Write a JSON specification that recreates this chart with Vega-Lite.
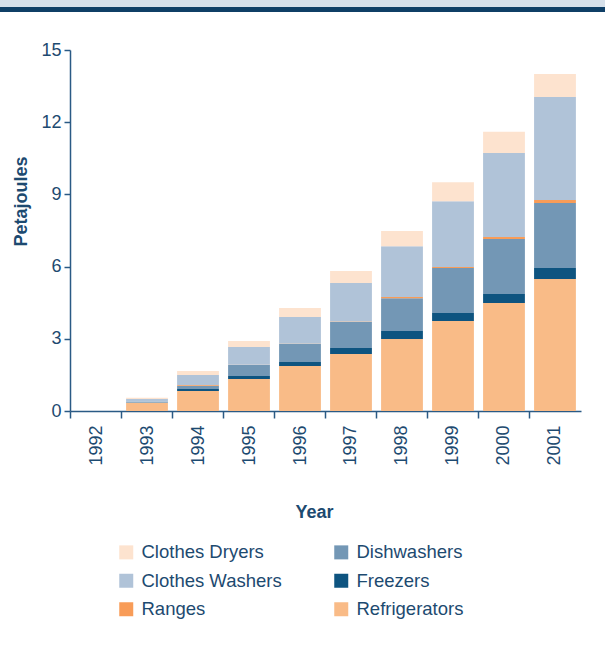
{
  "$schema": "https://vega.github.io/schema/vega-lite/v6.json",
  "padding": 0,
  "background": "white",
  "spacing": 29,
  "align": "none",
  "config": {
    "font": "Liberation Sans",
    "view": {"stroke": null}
  },
  "vconcat": [
    {
      "spacing": 0,
      "align": "none",
      "vconcat": [
        {
          "width": 605, "height": 7,
          "data": {"values": [{}]},
          "mark": {"type": "rect", "color": "#d6e0ea"},
          "encoding": {}
        },
        {
          "width": 605, "height": 5,
          "data": {"values": [{}]},
          "mark": {"type": "rect", "color": "#0f3f66"},
          "encoding": {}
        }
      ]
    },
    {
      "spacing": 0,
      "hconcat": [
        {
          "width": 12, "height": 1,
          "data": {"values": [{}]},
          "mark": {"type": "rect", "opacity": 0},
          "encoding": {}
        },
        {
          "width": 511,
          "height": 361,
          "data": {
            "values": [
              {"year": "1992", "appliance": "Refrigerators", "pj": 0},
              {"year": "1992", "appliance": "Freezers", "pj": 0},
              {"year": "1992", "appliance": "Dishwashers", "pj": 0},
              {"year": "1992", "appliance": "Ranges", "pj": 0},
              {"year": "1992", "appliance": "Clothes Washers", "pj": 0},
              {"year": "1992", "appliance": "Clothes Dryers", "pj": 0},
              {"year": "1993", "appliance": "Refrigerators", "pj": 0.34},
              {"year": "1993", "appliance": "Freezers", "pj": 0.01},
              {"year": "1993", "appliance": "Dishwashers", "pj": 0.04},
              {"year": "1993", "appliance": "Ranges", "pj": 0},
              {"year": "1993", "appliance": "Clothes Washers", "pj": 0.11},
              {"year": "1993", "appliance": "Clothes Dryers", "pj": 0.05},
              {"year": "1994", "appliance": "Refrigerators", "pj": 0.83},
              {"year": "1994", "appliance": "Freezers", "pj": 0.08},
              {"year": "1994", "appliance": "Dishwashers", "pj": 0.14},
              {"year": "1994", "appliance": "Ranges", "pj": 0.03},
              {"year": "1994", "appliance": "Clothes Washers", "pj": 0.42},
              {"year": "1994", "appliance": "Clothes Dryers", "pj": 0.16},
              {"year": "1995", "appliance": "Refrigerators", "pj": 1.33},
              {"year": "1995", "appliance": "Freezers", "pj": 0.12},
              {"year": "1995", "appliance": "Dishwashers", "pj": 0.46},
              {"year": "1995", "appliance": "Ranges", "pj": 0.01},
              {"year": "1995", "appliance": "Clothes Washers", "pj": 0.74},
              {"year": "1995", "appliance": "Clothes Dryers", "pj": 0.25},
              {"year": "1996", "appliance": "Refrigerators", "pj": 1.87},
              {"year": "1996", "appliance": "Freezers", "pj": 0.17},
              {"year": "1996", "appliance": "Dishwashers", "pj": 0.75},
              {"year": "1996", "appliance": "Ranges", "pj": 0.01},
              {"year": "1996", "appliance": "Clothes Washers", "pj": 1.11},
              {"year": "1996", "appliance": "Clothes Dryers", "pj": 0.37},
              {"year": "1997", "appliance": "Refrigerators", "pj": 2.37},
              {"year": "1997", "appliance": "Freezers", "pj": 0.25},
              {"year": "1997", "appliance": "Dishwashers", "pj": 1.08},
              {"year": "1997", "appliance": "Ranges", "pj": 0.02},
              {"year": "1997", "appliance": "Clothes Washers", "pj": 1.6},
              {"year": "1997", "appliance": "Clothes Dryers", "pj": 0.5},
              {"year": "1998", "appliance": "Refrigerators", "pj": 2.99},
              {"year": "1998", "appliance": "Freezers", "pj": 0.33},
              {"year": "1998", "appliance": "Dishwashers", "pj": 1.37},
              {"year": "1998", "appliance": "Ranges", "pj": 0.05},
              {"year": "1998", "appliance": "Clothes Washers", "pj": 2.11},
              {"year": "1998", "appliance": "Clothes Dryers", "pj": 0.63},
              {"year": "1999", "appliance": "Refrigerators", "pj": 3.74},
              {"year": "1999", "appliance": "Freezers", "pj": 0.33},
              {"year": "1999", "appliance": "Dishwashers", "pj": 1.87},
              {"year": "1999", "appliance": "Ranges", "pj": 0.04},
              {"year": "1999", "appliance": "Clothes Washers", "pj": 2.74},
              {"year": "1999", "appliance": "Clothes Dryers", "pj": 0.79},
              {"year": "2000", "appliance": "Refrigerators", "pj": 4.49},
              {"year": "2000", "appliance": "Freezers", "pj": 0.37},
              {"year": "2000", "appliance": "Dishwashers", "pj": 2.29},
              {"year": "2000", "appliance": "Ranges", "pj": 0.08},
              {"year": "2000", "appliance": "Clothes Washers", "pj": 3.49},
              {"year": "2000", "appliance": "Clothes Dryers", "pj": 0.88},
              {"year": "2001", "appliance": "Refrigerators", "pj": 5.48},
              {"year": "2001", "appliance": "Freezers", "pj": 0.46},
              {"year": "2001", "appliance": "Dishwashers", "pj": 2.7},
              {"year": "2001", "appliance": "Ranges", "pj": 0.13},
              {"year": "2001", "appliance": "Clothes Washers", "pj": 4.28},
              {"year": "2001", "appliance": "Clothes Dryers", "pj": 0.95}
            ]
          },
          "transform": [
            {"calculate": "indexof(['Refrigerators','Freezers','Dishwashers','Ranges','Clothes Washers','Clothes Dryers'], datum.appliance)", "as": "stackRank"}
          ],
          "mark": {"type": "bar"},
          "encoding": {
            "x": {
              "field": "year", "type": "ordinal",
              "scale": {"paddingInner": 0.18, "paddingOuter": 0.1},
              "axis": {
                "title": "Year",
                "labelAngle": -90,
                "labelFontSize": 18,
                "labelColor": "#1d4a70",
                "labelPadding": 7,
                "labelOffset": 0.5,
                "bandPosition": -0.11,
                "tickSize": 7,
                "tickColor": "#2a5a85",
                "domainColor": "#2a5a85",
                "domainWidth": 1.5,
                "tickWidth": 1.5,
                "titleFontSize": 18,
                "titleFontWeight": "bold",
                "titleColor": "#1d4a70",
                "titlePadding": 38,
                "titleX": 244
              }
            },
            "y": {
              "field": "pj", "type": "quantitative", "stack": "zero",
              "scale": {"domain": [0, 15], "nice": false},
              "axis": {
                "title": "Petajoules",
                "values": [0, 3, 6, 9, 12, 15],
                "grid": false,
                "labelFontSize": 18,
                "labelColor": "#1d4a70",
                "labelPadding": 3,
                "tickSize": 6,
                "tickColor": "#2a5a85",
                "domainColor": "#2a5a85",
                "domainWidth": 1.5,
                "tickWidth": 1.5,
                "titleFontSize": 18,
                "titleFontWeight": "bold",
                "titleColor": "#1d4a70",
                "titlePadding": 10,
                "titleY": 151
              }
            },
            "order": {"field": "stackRank", "type": "quantitative", "sort": "ascending"},
            "color": {
              "field": "appliance", "type": "nominal",
              "sort": ["Clothes Dryers", "Clothes Washers", "Ranges", "Dishwashers", "Freezers", "Refrigerators"],
              "scale": {"range": ["#fde3cf", "#b0c3d8", "#f89c58", "#7397b5", "#0e5480", "#f9bb87"]},
              "legend": {
                "title": null,
                "orient": "none",
                "legendX": 117,
                "legendY": 543,
                "columns": 2,
                "columnPadding": 50,
                "rowPadding": 9.5,
                "symbolType": "square",
                "symbolSize": 196,
                "symbolStrokeWidth": 0,
                "symbolOpacity": 1,
                "labelFontSize": 18.5,
                "labelColor": "#1d4a70",
                "labelOffset": 6
              }
            }
          }
        }
      ]
    }
  ]
}
